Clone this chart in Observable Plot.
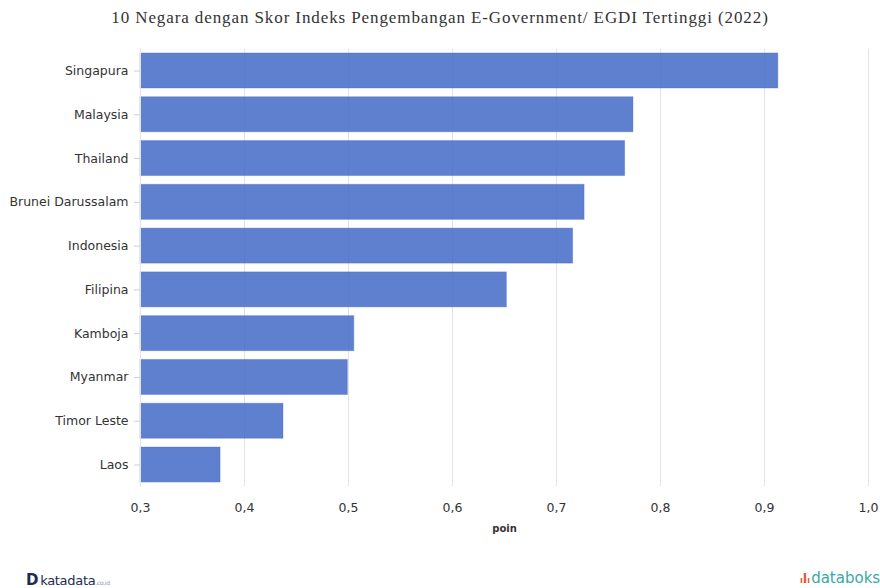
<!DOCTYPE html>
<html>
<head>
<meta charset="utf-8">
<script src="https://cdn.jsdelivr.net/npm/d3@7"></script>
<script src="https://cdn.jsdelivr.net/npm/@observablehq/plot@0.6"></script>
<style>
  html, body { margin: 0; padding: 0; background: #fff; }
  #wrap { position: relative; width: 880px; height: 588px; overflow: hidden; }
  #title { position: absolute; left: 0; top: 8px; width: 880px; text-align: center;
           font-family: "Liberation Serif", "Times New Roman", serif; font-size: 17px;
           letter-spacing: 0.9px; color: #333; }
  #chart { position: absolute; left: 0; top: 36px; }
  #kata { position: absolute; left: 26px; top: 571px; font-family: "DejaVu Sans", sans-serif;
          font-size: 13px; color: #1d2b4f; letter-spacing: -0.3px; }
  #kata b { font-size: 15px; margin-right: 2px; }
  #kata small { font-size: 6px; color: #8a93a8; }
  #boks { position: absolute; left: 800px; top: 569px; font-family: "DejaVu Sans", sans-serif;
          font-size: 15px; color: #3aa8a8; white-space: nowrap; }
  #boks span { color: #e8573a; font-weight: bold; font-size: 13px; margin-right: 1px; }
</style>
</head>
<body>
<div id="wrap">
  <div id="title">10 Negara dengan Skor Indeks Pengembangan E-Government/ EGDI Tertinggi (2022)</div>
  <div id="chart"></div>
  <div id="kata"><b>D</b>katadata<small>.co.id</small></div>
  <div id="boks"><span>ᵢlᵢ</span>databoks</div>
</div>
<script>
const countries = ["Singapura", "Malaysia", "Thailand", "Brunei Darussalam", "Indonesia",
                   "Filipina", "Kamboja", "Myanmar", "Timor Leste", "Laos"];
const scores = [0.9133, 0.7740, 0.7660, 0.7270, 0.7160, 0.6523, 0.5056, 0.4994, 0.4375, 0.3770];
const xTicks = [0.3, 0.4, 0.5, 0.6, 0.7, 0.8, 0.9, 1.0];
const xLabel = "poin";

const data = countries.map((c, i) => ({country: c, score: scores[i]}));
const fmt = d => d3.format(".1f")(d).replace(".", ",");

const chart = Plot.plot({
  width: 880,
  height: 552,
  marginLeft: 140,
  marginRight: 12,
  marginTop: 12.6,
  marginBottom: 101.6,
  style: {fontFamily: "'DejaVu Sans', Verdana, sans-serif", fontSize: "12.5px", color: "#333"},
  x: {domain: [0.3, 1.0]},
  y: {domain: countries, paddingInner: 0.2, paddingOuter: 0.1, round: false},
  marks: [
    Plot.gridX(xTicks, {stroke: "#e4e4e4", strokeOpacity: 1}),
    Plot.barX(data, {x1: 0.3, x2: "score", y: "country", fill: "#4368c7", fillOpacity: 0.85,
                     stroke: "#4368c7", strokeOpacity: 0.35, strokeWidth: 1}),
    Plot.axisX(xTicks, {tickSize: 0, tickPadding: 16, tickFormat: fmt, label: null, fill: "#333"}),
    Plot.axisY({tickSize: 6, tickPadding: 6, label: null, stroke: "#d0d0d0", fill: "#333"}),
    Plot.ruleX([0.3], {stroke: "#e4e4e4"}),
    Plot.text([xLabel], {frameAnchor: "bottom", dy: 45, text: d => d, fontWeight: "bold", fontSize: 10, fill: "#333"})
  ]
});
document.getElementById("chart").appendChild(chart);
</script>
</body>
</html>
